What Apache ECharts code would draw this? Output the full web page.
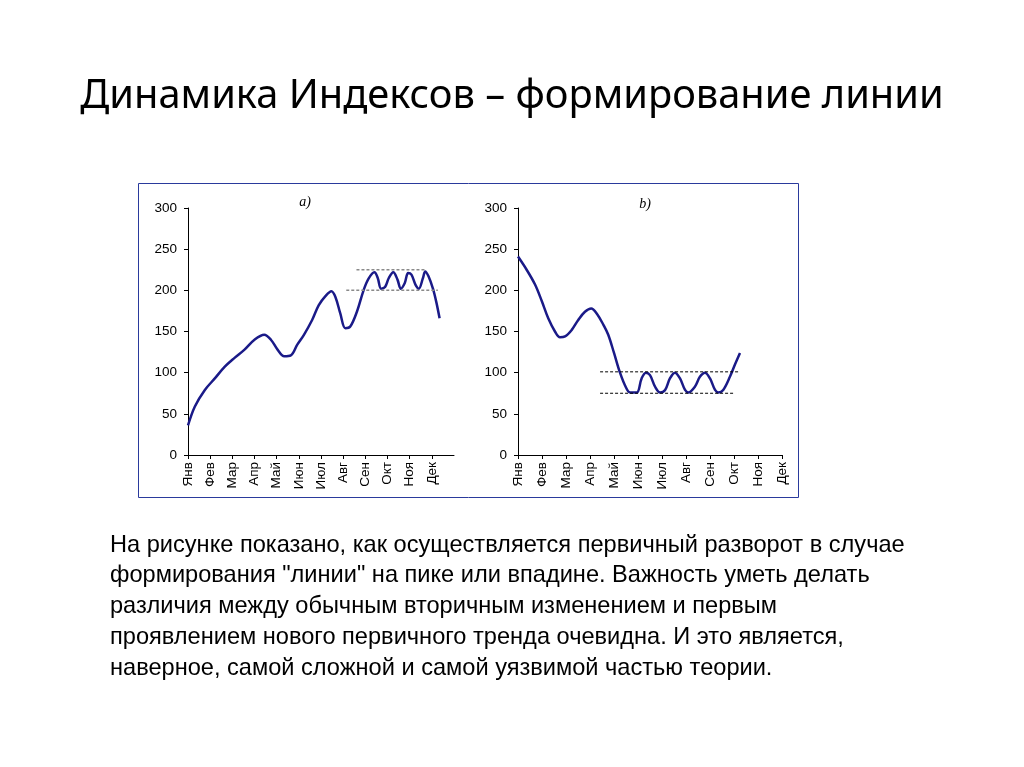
<!doctype html>
<html>
<head>
    <meta charset="utf-8">
    <title>Динамика Индексов</title>
    <script src="https://cdnjs.cloudflare.com/ajax/libs/echarts/6.0.0/echarts.min.js"></script>
</head>
<style>
    html, body {
        margin: 0;
        padding: 0;
        background: #fff;
    }
    #chart {
        width: 1024px;
        height: 767px;
    }
</style>
<body>
<div id="chart"></div>
<script>
  // month labels on both x axes
  var months = ['Янв', 'Фев', 'Мар', 'Апр', 'Май', 'Июн', 'Июл', 'Авг', 'Сен', 'Окт', 'Ноя', 'Дек'];
  var monthTicks = [0, 1, 2, 3, 4, 5, 6, 7, 8, 9, 10, 11];

  // chart a) - position in months, index value
  var leftMonths = [0, 0.31, 0.76, 1.21, 1.65, 2.10, 2.55, 3.0, 3.44, 3.74, 4.04, 4.34, 4.64, 4.93, 5.23,
    5.6, 5.9, 6.2, 6.47, 6.65, 6.87, 7.1, 7.32, 7.62, 7.92, 8.14, 8.41, 8.56, 8.71, 8.89, 9.06,
    9.26, 9.45, 9.6, 9.78, 9.93, 10.08, 10.26, 10.41, 10.6, 10.7, 10.85, 11.05, 11.2, 11.35];
  var leftValues = [36, 59, 79, 93, 107, 118, 128, 140, 146, 140, 128, 120, 121, 134, 146,
    164, 182, 193, 199, 192, 172, 154, 156, 174, 200, 214, 222, 215, 202, 204, 215,
    222, 213, 202, 209, 221, 219, 207, 202, 215, 223, 217, 202, 186, 166];
  // chart a) dashed levels: [from, to, value]
  var leftUpper = [7.6, 10.72, 225];
  var leftLower = [7.14, 11.27, 200];

  // chart b)
  var rightMonths = [0, 0.36, 0.71, 0.99, 1.26, 1.54, 1.75, 1.96, 2.24, 2.51, 2.79, 3.05, 3.3, 3.56, 3.76,
    4.0, 4.25, 4.5, 4.67, 4.95, 5.15, 5.33, 5.5, 5.71, 5.92, 6.13, 6.33, 6.54, 6.75, 6.96, 7.1,
    7.37, 7.58, 7.79, 8.0, 8.21, 8.35, 8.55, 8.83, 9.04, 9.25];
  var rightValues = [241, 225, 207, 187, 166, 150, 143, 144, 152, 164, 174, 178, 171, 158, 146,
    124, 100, 82, 76, 76, 93, 100, 97, 83, 76, 79, 93, 100, 93, 79, 76,
    83, 95, 100, 93, 79, 76, 79, 95, 110, 124];
  var rightUpper = [3.42, 9.25, 101];
  var rightLower = [3.42, 8.97, 75];

  var titleText = 'Динамика Индексов – формирование линии';
  var bodyLines = [
    'На рисунке показано, как осуществляется первичный разворот в случае',
    'формирования "линии" на пике или впадине. Важность уметь делать',
    'различия между обычным вторичным изменением и первым',
    'проявлением нового первичного тренда очевидна. И это является,',
    'наверное, самой сложной и самой уязвимой частью теории.'
  ];

  function pairs(xs, ys) {
    var out = [];
    for (var i = 0; i < xs.length; i++) {
      out.push([xs[i], ys[i]]);
    }
    return out;
  }

  function level(l) {
    return [[l[0], l[2]], [l[1], l[2]]];
  }

  var lineColor = '#1a1a88';
  var axisFont = 'Arial, "Liberation Sans", sans-serif';

  function xAxis(grid, max) {
    return {
      type: 'value',
      gridIndex: grid,
      min: 0,
      max: max,
      interval: 1,
      splitLine: { show: false },
      axisLine: { lineStyle: { color: '#000', width: 1 } },
      axisTick: { length: 4, lineStyle: { color: '#000' }, customValues: monthTicks },
      axisLabel: {
        rotate: 90,
        margin: 7,
        color: '#000',
        fontSize: 13.5,
        fontFamily: axisFont,
        customValues: monthTicks,
        formatter: function (v) { return months[Math.round(v)] || ''; }
      }
    };
  }

  function yAxis(grid) {
    return {
      type: 'value',
      gridIndex: grid,
      min: 0,
      max: 300,
      interval: 50,
      splitLine: { show: false },
      axisLine: { show: true, lineStyle: { color: '#000', width: 1 } },
      axisTick: { show: true, length: 4, lineStyle: { color: '#000' } },
      axisLabel: { color: '#000', fontSize: 13.5, fontFamily: axisFont, margin: 11 }
    };
  }

  var graphics = [
    {
      type: 'rect',
      shape: { x: 138.5, y: 183.5, width: 660, height: 314 },
      style: { fill: null, stroke: '#2a3a9c', lineWidth: 1 }
    },
    {
      type: 'text',
      x: 512, y: 97,
      style: {
        text: titleText, fill: '#000', align: 'center', verticalAlign: 'middle',
        font: '39.8px "Noto Sans", sans-serif'
      }
    },
    {
      type: 'text',
      x: 305, y: 202,
      style: { text: 'a)', fill: '#000', align: 'center', verticalAlign: 'middle',
        font: 'italic 14px "Liberation Serif", serif' }
    },
    {
      type: 'text',
      x: 645, y: 204,
      style: { text: 'b)', fill: '#000', align: 'center', verticalAlign: 'middle',
        font: 'italic 14px "Liberation Serif", serif' }
    }
  ];
  for (var i = 0; i < bodyLines.length; i++) {
    graphics.push({
      type: 'text',
      x: 110, y: 545 + i * 30.8,
      style: {
        text: bodyLines[i], fill: '#000', align: 'left', verticalAlign: 'middle',
        font: '23.6px "Liberation Sans", Arial, sans-serif'
      }
    });
  }

  var myChart = echarts.init(document.getElementById('chart'), null, { renderer: 'canvas' });

  myChart.setOption({
    animation: false,
    backgroundColor: '#fff',
    grid: [
      { left: 188, top: 208, width: 266, height: 247 },
      { left: 518, top: 208, width: 264, height: 247 }
    ],
    xAxis: [xAxis(0, 12), xAxis(1, 11)],
    yAxis: [yAxis(0), yAxis(1)],
    graphic: graphics,
    series: [
      {
        type: 'line', xAxisIndex: 0, yAxisIndex: 0,
        data: pairs(leftMonths, leftValues),
        smooth: 0.35, showSymbol: false,
        lineStyle: { color: lineColor, width: 2.5 }
      },
      {
        type: 'line', xAxisIndex: 0, yAxisIndex: 0,
        data: level(leftUpper), showSymbol: false,
        lineStyle: { color: '#8a8a8a', width: 1.5, type: [3, 2] }
      },
      {
        type: 'line', xAxisIndex: 0, yAxisIndex: 0,
        data: level(leftLower), showSymbol: false,
        lineStyle: { color: '#8a8a8a', width: 1.5, type: [3, 2] }
      },
      {
        type: 'line', xAxisIndex: 1, yAxisIndex: 1,
        data: pairs(rightMonths, rightValues),
        smooth: 0.35, showSymbol: false,
        lineStyle: { color: lineColor, width: 2.5 }
      },
      {
        type: 'line', xAxisIndex: 1, yAxisIndex: 1,
        data: level(rightUpper), showSymbol: false,
        lineStyle: { color: '#000', width: 1, type: [3, 2] }
      },
      {
        type: 'line', xAxisIndex: 1, yAxisIndex: 1,
        data: level(rightLower), showSymbol: false,
        lineStyle: { color: '#000', width: 1, type: [3, 2] }
      }
    ]
  });
</script>
</body>
</html>
